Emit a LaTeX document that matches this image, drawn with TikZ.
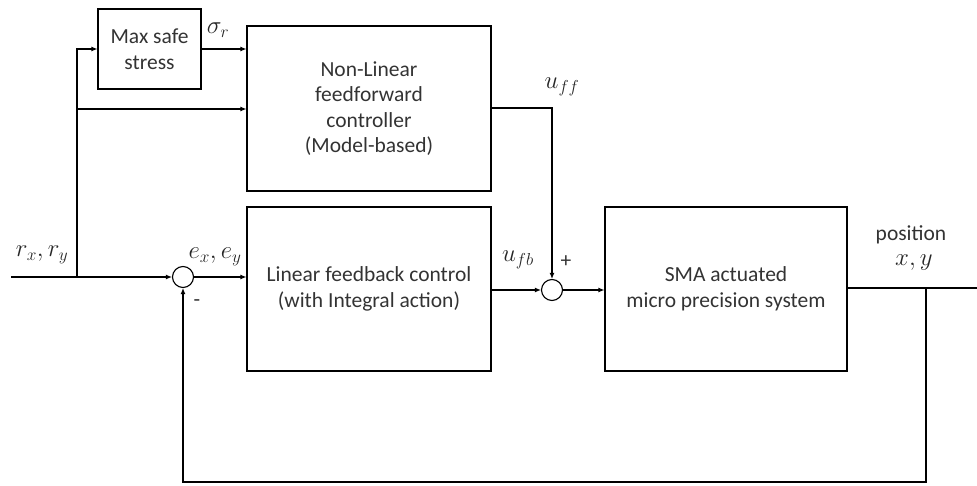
\documentclass[tikz,border=0pt]{standalone}
\usepackage{fontspec}
\setmainfont{Carlito}
\usetikzlibrary{arrows.meta}
\begin{document}
\begin{tikzpicture}[x=1pt,y=-1pt,line width=1.1pt,
  blk/.style={draw,rectangle,inner sep=0pt,align=center,text=black!80,font=\fontsize{21.5}{25.5}\selectfont},
  sumc/.style={draw,circle,minimum size=21pt,inner sep=0pt},
  arr/.style={-{Latex[length=6pt,width=5pt]}},
  lbl/.style={font=\fontsize{21.5}{24}\selectfont,inner sep=0pt,text=black!80},
  mlbl/.style={font=\fontsize{23.5}{26}\selectfont,inner sep=0pt,text=black!85}]
\useasboundingbox (0,0) rectangle (977,486);
\node[blk,minimum width=103pt,minimum height=80pt] (max) at (149.5,49) {Max safe\\stress};
\node[blk,minimum width=244pt,minimum height=165pt] (nlff) at (369,108.5) {Non-Linear\\feedforward\\controller\\(Model-based)};
\node[blk,minimum width=244pt,minimum height=164pt] (lin) at (369,289) {Linear feedback control\\(with Integral action)};
\node[blk,minimum width=242pt,minimum height=164pt] (sma) at (726,289) {SMA actuated\\micro precision system};
\node[sumc] (s1) at (183,277) {};
\node[sumc] (s2) at (552,290) {};
\coordinate (in) at (11,277);
\coordinate (br) at (77,277);
\coordinate (out) at (977,288);
\coordinate (fb) at (926,288);
\coordinate (fbb) at (926,482);
% input
\draw[arr] (in) -- (s1.west);
\draw[arr] (br) |- (max.west);
\draw[arr] (77,109) -- (nlff.west |- 0,109);
\draw[arr] (max.east) -- (max.east -| nlff.west);
\draw[arr] (s1.east) -- (lin.west |- s1.east);
\draw[arr] (lin.east |- s2.west) -- (s2.west);
\draw[arr] (nlff.east |- 0,108) -| (s2.north);
\draw[arr] (s2.east) -- (sma.west |- s2.east);
\draw (sma.east |- out) -- (out);
\draw[arr] (fb) -- (fbb) -| (s1.south);
% labels
\node[mlbl] (lr) at (42,255) {$r_x, r_y$};
\node[mlbl] (le) at (215,257) {$e_x, e_y$};
\node[lbl] (lm) at (197,303) {-};
\node[mlbl] (ls) at (218,30) {$\sigma_r$};
\node[mlbl] (lff) at (562,87) {$u_{ff}$};
\node[mlbl] (lfb) at (518,260) {$u_{fb}$};
\node[lbl] (lp) at (566,262) {+};
\node[lbl] (lpos) at (911,235) {position};
\node[mlbl] (lxy) at (914,263) {$x, y$};
\end{tikzpicture}
\end{document}
